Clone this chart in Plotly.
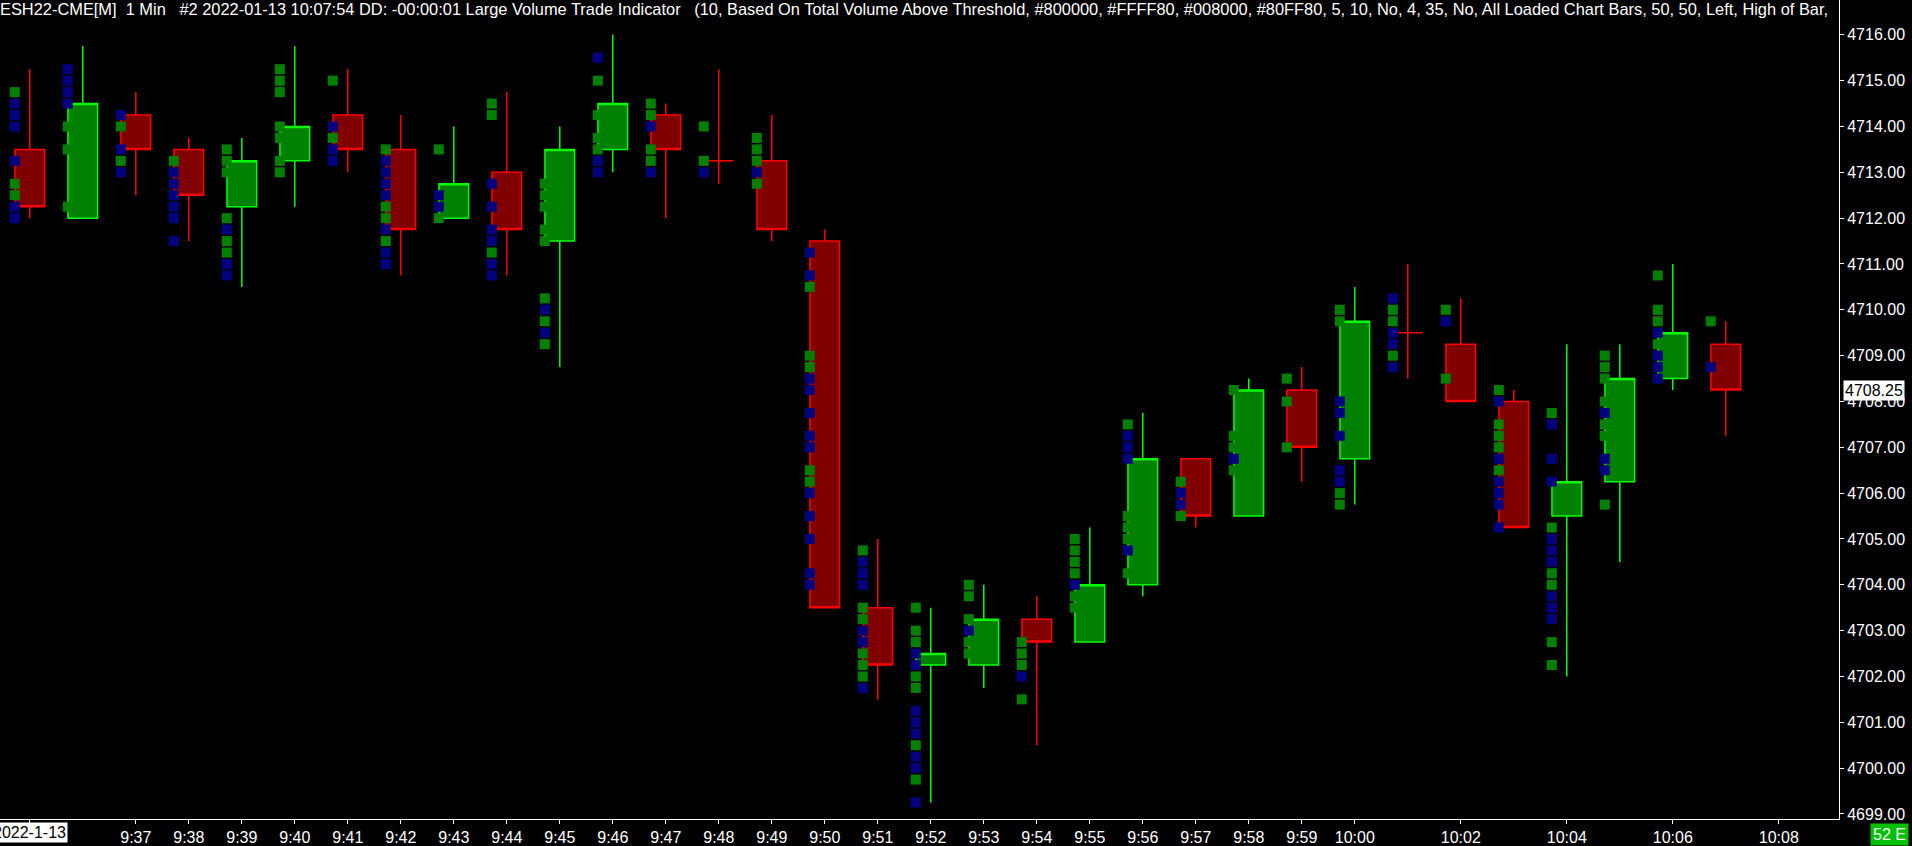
import plotly.graph_objects as go

# ---------------- data ----------------
times = ["9:35", "9:36", "9:37", "9:38", "9:39", "9:40", "9:41", "9:42", "9:43", "9:44",
         "9:45", "9:46", "9:47", "9:48", "9:49", "9:50", "9:51", "9:52", "9:53", "9:54",
         "9:55", "9:56", "9:57", "9:58", "9:59", "10:00", "10:01", "10:02", "10:03", "10:04",
         "10:05", "10:06", "10:07"]
opens = [4713.5, 4712.0, 4714.25, 4713.5, 4712.25, 4713.25, 4714.25, 4713.5, 4712.0, 4713.0,
         4711.5, 4713.5, 4714.25, 4713.25, 4713.25, 4711.5, 4703.5, 4702.25, 4702.25, 4703.25,
         4702.75, 4704.0, 4706.75, 4705.5, 4708.25, 4706.75, 4709.5, 4709.25, 4708.0, 4705.5,
         4706.25, 4708.5, 4709.25]
highs = [4715.25, 4715.75, 4714.75, 4713.75, 4713.75, 4715.75, 4715.25, 4714.25, 4714.0, 4714.75,
         4714.0, 4716.0, 4714.5, 4715.25, 4714.25, 4711.75, 4705.0, 4703.5, 4704.0, 4703.75,
         4705.25, 4707.75, 4706.75, 4708.5, 4708.75, 4710.5, 4711.0, 4710.25, 4708.25, 4709.25,
         4709.25, 4711.0, 4709.75]
lows = [4712.0, 4712.0, 4712.5, 4711.5, 4710.5, 4712.25, 4713.0, 4710.75, 4712.0, 4710.75,
        4708.75, 4713.0, 4712.0, 4712.75, 4711.5, 4703.5, 4701.5, 4699.25, 4701.75, 4700.5,
        4702.75, 4703.75, 4705.25, 4705.5, 4706.25, 4705.75, 4708.5, 4708.0, 4705.25, 4702.0,
        4704.5, 4708.25, 4707.25]
closes = [4712.25, 4714.5, 4713.5, 4712.5, 4713.25, 4714.0, 4713.5, 4711.75, 4712.75, 4711.75,
          4713.5, 4714.5, 4713.5, 4713.25, 4711.75, 4703.5, 4702.25, 4702.5, 4703.25, 4702.75,
          4704.0, 4706.75, 4705.5, 4708.25, 4707.0, 4709.75, 4709.5, 4708.0, 4705.25, 4706.25,
          4708.5, 4709.5, 4708.25]

# large volume trades at each price level (green = at ask, navy = at bid)
green_levels = [
    [4714.75, 4712.75, 4712.5],
    [4714.0, 4713.5, 4712.25],
    [4714.0, 4713.25],
    [4713.25],
    [4713.5, 4713.25, 4713.0, 4712.0, 4711.5, 4711.25],
    [4715.25, 4715.0, 4714.75, 4714.0, 4713.75, 4713.25, 4713.0],
    [4715.0, 4713.75],
    [4713.5, 4712.25, 4712.0, 4711.5],
    [4713.5, 4712.0],
    [4714.5, 4714.25, 4711.25],
    [4712.75, 4712.5, 4712.25, 4711.75, 4711.5, 4710.25, 4709.75, 4709.25],
    [4715.0, 4714.25, 4713.75, 4713.5],
    [4714.5, 4714.25, 4713.5, 4713.25],
    [4714.0, 4713.25],
    [4713.75, 4713.5, 4713.25, 4712.75],
    [4710.5, 4709.0, 4708.75, 4706.5, 4706.25],
    [4704.75, 4703.5, 4703.25, 4702.5, 4702.25, 4702.0],
    [4703.5, 4703.0, 4702.75, 4702.0, 4701.75, 4700.5, 4699.75],
    [4704.0, 4703.75, 4703.25, 4702.75, 4702.5],
    [4702.75, 4702.5, 4702.25, 4701.5],
    [4705.0, 4704.75, 4704.5, 4704.25, 4703.75, 4703.5],
    [4707.5, 4705.5, 4705.25, 4705.0, 4704.25],
    [4706.25, 4705.5],
    [4708.25, 4707.25, 4707.0, 4706.5],
    [4708.5, 4708.0, 4707.0],
    [4710.0, 4709.75, 4706.0, 4705.75],
    [4710.0, 4709.75, 4709.0],
    [4710.0, 4708.5],
    [4708.25, 4707.5, 4707.25, 4707.0, 4706.5],
    [4707.75, 4705.25, 4704.25, 4704.0, 4702.75, 4702.25],
    [4709.0, 4708.75, 4708.5, 4708.0, 4707.5, 4707.25, 4705.75],
    [4710.75, 4710.0, 4709.75, 4709.25],
    [4709.75],
]
navy_levels = [
    [4714.5, 4714.25, 4714.0, 4713.25, 4712.25, 4712.0],
    [4715.25, 4715.0, 4714.75, 4714.5],
    [4714.25, 4713.5, 4713.0],
    [4713.0, 4712.75, 4712.5, 4712.25, 4712.0, 4711.5],
    [4711.75, 4711.0, 4710.75],
    [],
    [4714.0, 4713.5, 4713.25],
    [4713.25, 4713.0, 4712.75, 4712.5, 4711.75, 4711.25, 4711.0],
    [4712.5, 4712.25],
    [4712.75, 4712.25, 4711.75, 4711.5, 4711.0, 4710.75],
    [4710.0, 4709.5],
    [4715.5, 4713.25, 4713.0],
    [4714.0, 4713.0],
    [4713.0],
    [4713.0],
    [4711.25, 4710.75, 4708.5, 4708.25, 4707.75, 4707.25, 4707.0, 4706.0, 4705.5, 4705.0,
     4704.25, 4704.0],
    [4704.5, 4704.25, 4704.0, 4703.0, 4702.75, 4701.75],
    [4702.5, 4702.25, 4701.25, 4701.0, 4700.75, 4700.25, 4700.0, 4699.25],
    [4703.0],
    [4702.0],
    [4704.0],
    [4707.25, 4707.0, 4706.75, 4704.75],
    [4706.0, 4705.75],
    [4706.75],
    [],
    [4708.0, 4707.75, 4707.25, 4706.5, 4706.25],
    [4710.25, 4709.5, 4709.25, 4708.75],
    [4709.75],
    [4708.0, 4706.75, 4706.25, 4706.0, 4705.75, 4705.25],
    [4707.5, 4706.75, 4706.25, 4705.0, 4704.75, 4704.5, 4703.75, 4703.5, 4703.25],
    [4707.75, 4706.75, 4706.5],
    [4709.5, 4709.0, 4708.75, 4708.5],
    [4708.75],
]

tick_times = ["9:35", "9:37", "9:38", "9:39", "9:40", "9:41", "9:42", "9:43", "9:44", "9:45",
              "9:46", "9:47", "9:48", "9:49", "9:50", "9:51", "9:52", "9:53", "9:54", "9:55",
              "9:56", "9:57", "9:58", "9:59", "10:00", "10:02", "10:04", "10:06", "10:08"]
date_label = "2022-1-13"
last_price = 4708.25
status_label = "52 E"
title_parts = ["ESH22-CME[M]", "1 Min", "#2 2022-01-13 10:07:54 DD: -00:00:01 Large Volume Trade Indicator",
               "(10, Based On Total Volume Above Threshold, #800000, #FFFF80, #008000, #80FF80, 5, 10, No, 4, 35, No, All Loaded Chart Bars, 50, 50, Left, High of Bar,"]

# ---------------- helpers ----------------
def to_min(s):
    h, m = s.split(":")
    return int(h) * 60 + int(m)

x = [to_min(t) for t in times]
MARKER_OFFSET = 0.283  # markers sit just left of the candle centre

NB = "\u00a0"
title_text = (NB * 2).join(title_parts[:2]) + NB * 3 + title_parts[2] + NB * 3 + title_parts[3]

FONT = "Liberation Sans, Arial, sans-serif"

fig = go.Figure()
fig.add_trace(go.Candlestick(
    x=x, open=opens, high=highs, low=lows, close=closes,
    increasing=dict(line=dict(color="#00FF00", width=1.5), fillcolor="#008000"),
    decreasing=dict(line=dict(color="#FF0000", width=1.5), fillcolor="#800000"),
    whiskerwidth=0, showlegend=False, hoverinfo="skip",
))

for levels, color in ((green_levels, "#008000"), (navy_levels, "#000080")):
    mx, my = [], []
    for t, lv in zip(x, levels):
        for p in lv:
            mx.append(t - MARKER_OFFSET)
            my.append(p)
    fig.add_trace(go.Scatter(
        x=mx, y=my, mode="markers", showlegend=False, hoverinfo="skip",
        marker=dict(symbol="square", size=10, color=color, line=dict(width=0)),
    ))

fig.update_layout(
    width=1912, height=846,
    paper_bgcolor="black", plot_bgcolor="black",
    margin=dict(l=0, r=73, t=0, b=24),
    boxgap=0.44, boxgroupgap=0,
    showlegend=False,
    font=dict(family=FONT, color="white", size=16),
    xaxis=dict(
        range=[574.438, 609.136],
        tickvals=[to_min(t) for t in tick_times],
        ticktext=["" if t == times[0] else t for t in tick_times],
        showgrid=False, zeroline=False,
        showline=True, linecolor="white", linewidth=1,
        ticks="outside", ticklen=4, tickcolor="white", tickwidth=1,
        tickfont=dict(family=FONT, color="white", size=16),
        rangeslider=dict(visible=False),
    ),
    yaxis=dict(
        side="right",
        range=[4698.89, 4716.76],
        tick0=4699, dtick=1, tickformat=".2f",
        showgrid=False, zeroline=False,
        showline=True, linecolor="white", linewidth=1,
        ticks="outside", ticklen=4, tickcolor="white", tickwidth=1,
        tickfont=dict(family=FONT, color="white", size=16),
    ),
)

fig.add_annotation(
    text=title_text, xref="paper", yref="paper", x=0, y=1,
    xanchor="left", yanchor="top", showarrow=False, xshift=-2, yshift=2,
    font=dict(family=FONT, color="white", size=16.4),
)
fig.add_annotation(
    text=date_label, xref="x", yref="paper", x=to_min(times[0]), y=0,
    xanchor="center", yanchor="top", showarrow=False, yshift=-3,
    bgcolor="white", borderpad=1,
    font=dict(family=FONT, color="black", size=16),
)
fig.add_annotation(
    text=f"{last_price:.2f}", xref="paper", yref="y", x=1, y=last_price,
    xanchor="left", yanchor="middle", showarrow=False, xshift=4,
    bgcolor="white", borderpad=1,
    font=dict(family=FONT, color="black", size=16),
)
fig.add_annotation(
    text=status_label, xref="paper", yref="paper", x=1, y=0,
    xanchor="left", yanchor="top", showarrow=False, xshift=31, yshift=-4,
    bgcolor="#00C000", borderpad=2,
    font=dict(family=FONT, color="white", size=16),
)

fig.write_html(
    "out.html",
    config={"displayModeBar": False},
    post_script="document.body.style.margin='0';document.body.style.background='black';document.body.style.overflow='hidden';",
)
